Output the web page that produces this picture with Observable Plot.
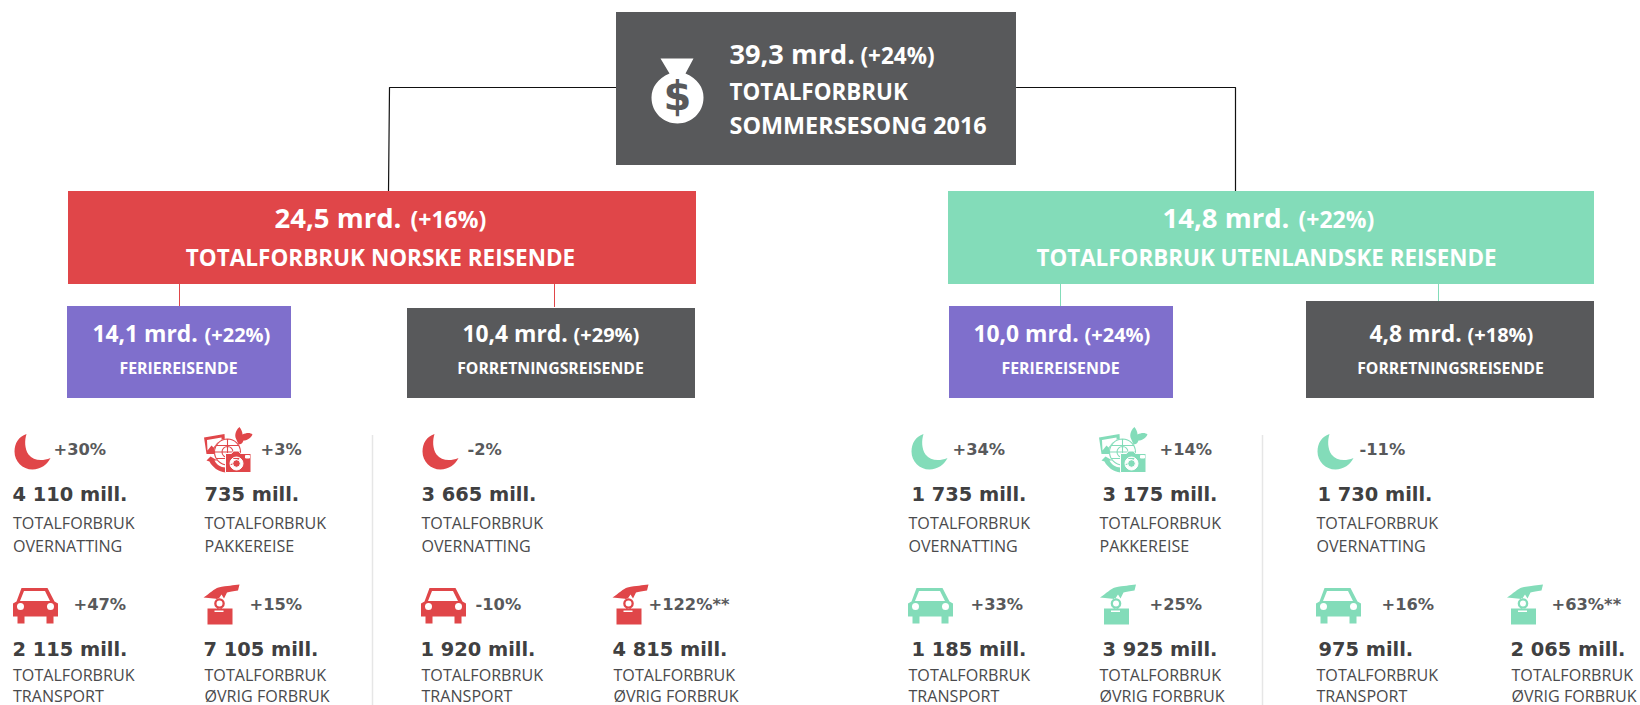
<!DOCTYPE html>
<html><head><meta charset="utf-8">
<script src="https://cdn.jsdelivr.net/npm/d3@7"></script>
<script src="https://cdn.jsdelivr.net/npm/@observablehq/plot@0.6"></script>
<style>
html,body{margin:0;padding:0;background:#fff}
svg{display:block}
svg path{fill-rule:evenodd}
</style></head><body><div id="chart"></div>
<script>
// ---- values ----
const boxAmounts = ["39,3 mrd.","24,5 mrd.","14,8 mrd.","14,1 mrd.","10,4 mrd.","10,0 mrd.","4,8 mrd."];
const boxChanges = ["(+24%)","(+16%)","(+22%)","(+22%)","(+29%)","(+24%)","(+18%)"];
const boxTitles = [["TOTALFORBRUK","SOMMERSESONG 2016"],["TOTALFORBRUK NORSKE REISENDE"],["TOTALFORBRUK UTENLANDSKE REISENDE"],["FERIEREISENDE"],["FORRETNINGSREISENDE"],["FERIEREISENDE"],["FORRETNINGSREISENDE"]];
const cellAmounts = ["4 110 mill.","735 mill.","3 665 mill.","2 115 mill.","7 105 mill.","1 920 mill.","4 815 mill.",
                     "1 735 mill.","3 175 mill.","1 730 mill.","1 185 mill.","3 925 mill.","975 mill.","2 065 mill."];
const cellChanges = ["+30%","+3%","-2%","+47%","+15%","-10%","+122%**","+34%","+14%","-11%","+33%","+25%","+16%","+63%**"];
const cellCategories = ["OVERNATTING","PAKKEREISE","OVERNATTING","TRANSPORT","ØVRIG FORBRUK","TRANSPORT","ØVRIG FORBRUK",
                        "OVERNATTING","PAKKEREISE","OVERNATTING","TRANSPORT","ØVRIG FORBRUK","TRANSPORT","ØVRIG FORBRUK"];
const cellTitle = "TOTALFORBRUK";

// ---- layout ----
const boxX1 = [616,68,948,67,407,949,1306];
const boxX2 = [1016,696,1594,291,695,1173,1594];
const boxY1 = [12,191,191,306,308,306,301];
const boxY2 = [165,284,284,398,398,398,398];
const boxFill = ["#58595b","#e04649","#83dcb9","#7f6fcc","#58595b","#7f6fcc","#58595b"];
const amountX = [729,274,1162,92,462,973,1369];
const amountY = [63,227,227,341,341,341,341];
const changeX = [860,410,1298,204,573,1084,1467];
const titleX = [729,380,1266,178,550,1060,1450];
const titleY = [[99,133],[265],[265],[373],[373],[373],[373]];
const amountSize = [27.2,27.5,27.5,22.8,22.8,22.8,22.8];
const changeSize = [22.5,23,23,20,20,20,20];
const titleSize = [[22.4,23.4],[22.5],[22.4],[15.9],[15.8],[15.9],[15.8]];
const cellX = [12.5,204,421,12.5,204,421,613,908,1099,1316,908,1099,1316,1511];
const cellAmountX = [12,204,421,12,203,420,612,911,1102,1317,911,1102,1318,1510];
const cellRow = [0,0,0,1,1,1,1,0,0,0,1,1,1,1];
const cellChangeX = [53,260,467,73,249,475,648,952,1159,1359,970,1149,1381,1551];
const rowChangeY = [454,609];
const rowAmountY = [500,655];
const rowLine1Y = [528,680];
const rowLine2Y = [551,701];
const iconX = [32,228,440,35,221,443,630,929,1123,1335,930,1117.5,1338,1524.5];
const iconY = [451,450,451,605,604,605,604,451,450,451,605,604,605,604];
const cellKind = ["moon","pack","moon","car","hand","car","hand","moon","pack","moon","car","hand","car","hand"];
const cellColor = [0,0,0,0,0,0,0,1,1,1,1,1,1,1];
const palette = ["#e04649","#83dcb9"];
const connectorsBlack = [[[616,87],[389,87],[388,191]],[[1016,87],[1235,87],[1235,191]]];
const connectorsColor = [[179,284,306,"#e04649"],[554,284,307,"#e04649"],[1060,284,306,"#83dcb9"],[1438,284,301,"#83dcb9"]];
const dividers = [372,1262];
const dividerY = [435,705];

// ---- icon glyphs as Plot symbols ----
const sym = draw => ({draw});
const circle = (c,x,y,r)=>{c.moveTo(x+r,y);c.arc(x,y,r,0,2*Math.PI);c.closePath();};
const moon = sym(c=>{
  c.moveTo(-6,-17.5);
  c.bezierCurveTo(-14,-15,-18,-8,-18,0);
  c.bezierCurveTo(-18,10,-10,18,0,18);
  c.bezierCurveTo(8,18,15,13,18,6.5);
  c.bezierCurveTo(9,10,1,9,-4,3);
  c.bezierCurveTo(-8,-3,-8,-11,-6,-17.5);
  c.closePath();
});
const car = sym(c=>{
  c.moveTo(-14,-17.5);c.lineTo(12,-17.5);c.lineTo(19,-4);c.lineTo(22.5,-2);c.lineTo(22.5,11);
  c.lineTo(18,11);c.lineTo(18,18);c.lineTo(11,18);c.lineTo(11,11);c.lineTo(-11,11);c.lineTo(-11,18);c.lineTo(-18,18);c.lineTo(-18,11);
  c.lineTo(-22.5,11);c.lineTo(-22.5,-2);c.lineTo(-19,-4);c.closePath();
  c.moveTo(-11.5,-14.5);c.lineTo(9.5,-14.5);c.lineTo(14.5,-4.5);c.lineTo(-15.5,-4.5);c.closePath();
  circle(c,-15,1,3.5);
  circle(c,15,1,3.5);
});
const hand = sym(c=>{
  c.moveTo(-18,-7);
  c.bezierCurveTo(-12,-11,-7,-16,-3,-17);
  c.bezierCurveTo(6,-19,12,-19,18,-20);
  c.lineTo(16.5,-14);
  c.bezierCurveTo(12,-13,8,-13,5.5,-12);
  c.lineTo(2.5,-6);c.lineTo(0,-10);c.lineTo(-3,-5.5);
  c.closePath();
  circle(c,-2,-1,5.3);
  circle(c,-2,-1,3);
  c.moveTo(-14,4);c.lineTo(11,4);c.lineTo(11,20);c.lineTo(-14,20);c.closePath();
  c.moveTo(-7,6);c.lineTo(2,6);c.lineTo(2,7.5);c.lineTo(-7,7.5);c.closePath();
});
const packBack = sym(c=>{
  // photo frame
  c.moveTo(-24.5,-13);c.lineTo(-4,-16.5);c.lineTo(-3,-1);c.lineTo(-14,3.5);c.lineTo(-22,3.5);c.closePath();
  c.moveTo(-21.5,-10.5);c.lineTo(-7,-13);c.lineTo(-6.5,-4);c.lineTo(-11,-8);c.lineTo(-15,-3);c.lineTo(-17,-5);c.lineTo(-21,0);c.closePath();
  // butterfly
  c.moveTo(7,-13);c.bezierCurveTo(6,-18,9,-22,11,-23.5);c.bezierCurveTo(13,-21,14,-18,14,-16);
  c.bezierCurveTo(18,-18,22,-18,24,-16);c.bezierCurveTo(22,-12,18,-10,15,-10);c.bezierCurveTo(14,-7,12,-6,10,-6);c.closePath();
  // arrow
  c.moveTo(-18,6);c.lineTo(-22,10);c.lineTo(-19,11);c.bezierCurveTo(-16,17,-10,21,-3,22);c.lineTo(-3,17);c.bezierCurveTo(-8,17,-12,14,-14,10);c.lineTo(-11,10);c.closePath();
});
const globeDisc = sym(c=>circle(c,-1,1.5,13.5));
const globe = sym(c=>{
  circle(c,-1,1.5,13);
  c.moveTo(4.5,1.5);c.arc(-1,1.5,5.5,0,2*Math.PI);
  c.moveTo(-14,1.5);c.lineTo(12,1.5);
  c.moveTo(-1,-11.5);c.lineTo(-1,14.5);
  c.moveTo(-12,-5);c.lineTo(10,-5);
  c.moveTo(-12,8);c.lineTo(10,8);
});
const camera = sym(c=>{
  c.moveTo(-3,3);c.lineTo(3,3);c.lineTo(5,0.5);c.lineTo(10,0.5);c.lineTo(12,3);c.lineTo(22.5,3);c.lineTo(22.5,22);c.lineTo(-3,22);c.closePath();
  c.moveTo(17,5);c.lineTo(21,5);c.lineTo(21,7.5);c.lineTo(17,7.5);c.closePath();
  circle(c,8,13,6.5);
  circle(c,8,13,3.8);
});
const bag = sym(c=>{
  c.moveTo(-17,-32);c.lineTo(16,-32);c.lineTo(8,-17);
  c.bezierCurveTo(20,-12,26,-3,26,7);c.bezierCurveTo(26,22,14,33,0,33);
  c.bezierCurveTo(-14,33,-26,22,-26,7);c.bezierCurveTo(-26,-3,-20,-12,-8,-17);c.closePath();
});
const glyphs = {moon,car,hand,pack:packBack};

// ---- rows for the marks ----
const boxes = boxAmounts.map((a,i)=>({x1:boxX1[i],x2:boxX2[i],y1:boxY1[i],y2:boxY2[i],fill:boxFill[i]}));
const txt = (x,y,t,size)=>({x,y,t,size});
const amounts = boxAmounts.map((a,i)=>txt(amountX[i],amountY[i],a,amountSize[i]));
const changes = boxChanges.map((a,i)=>txt(changeX[i],amountY[i],a,changeSize[i]));
const titles = boxTitles.flatMap((ls,i)=>ls.map((l,j)=>txt(titleX[i],titleY[i][j],l,titleSize[i][j])));
const cellAmountRows = cellAmounts.map((a,i)=>txt(cellAmountX[i],rowAmountY[cellRow[i]],a,19.4));
const cellChangeRows = cellChanges.map((a,i)=>txt(cellChangeX[i],rowChangeY[cellRow[i]],a,16.3));
const cellLabelRows = cellCategories.flatMap((a,i)=>[
  txt(cellX[i],rowLine1Y[cellRow[i]],cellTitle,16.1),
  txt(cellX[i],rowLine2Y[cellRow[i]],a,16.1)]);

const label = (rows,o)=>Plot.text(rows,{x:"x",y:"y",text:"t",fontSize:"size",lineAnchor:"bottom",textAnchor:"start",...o});
const indexed = cellKind.map((kind,i)=>({kind,i}));
const iconPos = {x:d=>iconX[d.i],y:d=>iconY[d.i],r:10};
const tint = d=>palette[cellColor[d.i]];
const icons = Object.keys(glyphs).map(k=>Plot.dot(indexed.filter(d=>d.kind===k),{...iconPos,symbol:glyphs[k],fill:tint,stroke:"none"}));
const packCells = indexed.filter(d=>d.kind==="pack");

const chart = Plot.plot({
  width:1640,height:705,margin:0,
  x:{domain:[0,1640],range:[0,1640],axis:null},
  y:{domain:[0,705],range:[0,705],axis:null},
  color:{type:"identity"},
  style:{background:"#fff"},
  marks:[
    Plot.ruleX(dividers,{x:d=>d,y1:dividerY[0],y2:dividerY[1],stroke:"#e6e6e6",strokeWidth:1.5}),
    ...connectorsBlack.map(pts=>Plot.line(pts,{x:d=>d[0],y:d=>d[1],stroke:"#111",strokeWidth:1.2})),
    Plot.ruleX(connectorsColor,{x:d=>d[0],y1:d=>d[1],y2:d=>d[2],stroke:d=>d[3],strokeWidth:1}),
    Plot.rect(boxes,{x1:"x1",x2:"x2",y1:"y1",y2:"y2",fill:"fill"}),
    Plot.dot([0],{x:()=>677,y:()=>90,r:10,symbol:bag,fill:"#fff",stroke:"none"}),
    Plot.text(["$"],{x:()=>677,y:()=>97,text:d=>d,fontSize:40,fontWeight:"bold",fontFamily:"DejaVu Sans",fill:"#58595b",lineAnchor:"middle"}),
    label(amounts,{fontFamily:"Open Sans",fontWeight:700,fill:"#fff"}),
    label(changes,{fontFamily:"Open Sans",fontWeight:700,fill:"#fff"}),
    label(titles.slice(0,2),{fontFamily:"Open Sans",fontWeight:700,fill:"#fff"}),
    label(titles.slice(2),{fontFamily:"Open Sans",fontWeight:700,fill:"#fff",textAnchor:"middle"}),
    ...icons,
    Plot.dot(packCells,{...iconPos,symbol:globeDisc,fill:"#fff",stroke:"none"}),
    Plot.dot(packCells,{...iconPos,symbol:globe,fill:"none",stroke:tint,strokeWidth:1.1}),
    Plot.dot(packCells,{...iconPos,symbol:camera,fill:tint,stroke:"#fff",strokeWidth:1}),
    label(cellChangeRows,{fontFamily:"DejaVu Sans",fontWeight:700,fill:"#58595b"}),
    label(cellAmountRows,{fontFamily:"DejaVu Sans",fontWeight:700,fill:"#404041"}),
    label(cellLabelRows,{fontFamily:"Open Sans",fontWeight:400,fill:"#4a4a4c"})
  ]
});
document.getElementById("chart").append(chart);
</script></body></html>
